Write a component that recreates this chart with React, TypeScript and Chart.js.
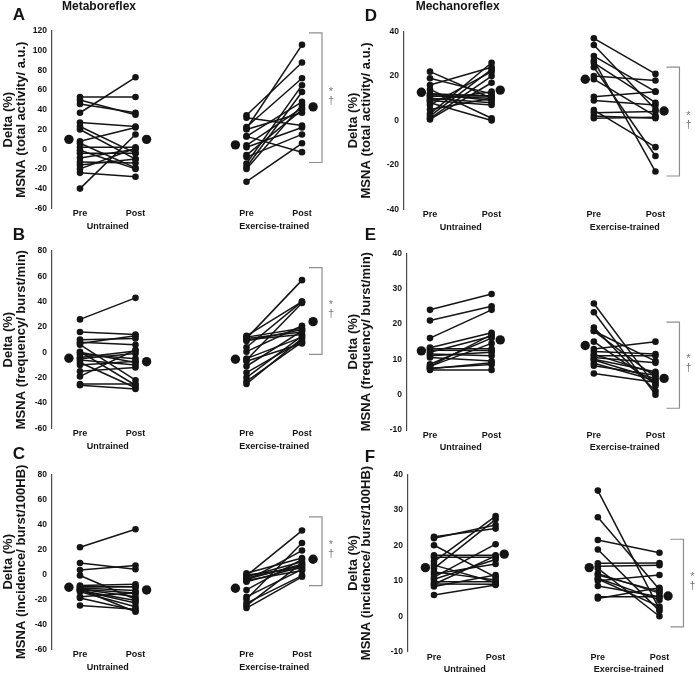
import React, { useEffect, useRef } from "react";
import { Chart, registerables } from "chart.js";
Chart.register(...registerables);

const FONT = "'Liberation Sans', Arial, Helvetica, sans-serif";
const INK = "#141414";

// ---- text ----
const TICK_LABELS = ["Pre", "Post", "Pre", "Post"];
const GROUP_LABELS = ["Untrained", "Exercise-trained"];
const Y_TOP = "Delta (%)";
const Y_TOTAL = "MSNA (total activity/ a.u.)";
const Y_FREQ = "MSNA (frequency/ burst/min)";
const Y_INC = "MSNA (incidence/ burst/100HB)";

// ---- y ticks ----
const A_TICKS = [-60, -40, -20, 0, 20, 40, 60, 80, 100, 120];
const BC_TICKS = [-60, -40, -20, 0, 20, 40, 60, 80];
const D_TICKS = [-40, -20, 0, 20, 40];
const EF_TICKS = [-10, 0, 10, 20, 30, 40];

// ---- Panel A: Metaboreflex, total activity ----
const A_UNT_PRE = [53, 50, 46, 37, 27, 23, 20, 8, 6, 2, -1, -4, -9, -13, -16, -20, -24, -40];
const A_UNT_POST = [53, 35, 37, 73, 23, -4, -10, 22, -19, 2, -20, -4, 0, -14, -10, 1, -28, 15];
const A_TRN_PRE = [21, 34.5, 32, 22.6, 13, 4, 2, -6, -8, -14.5, -18, -33, 13, -20, 20];
const A_TRN_POST = [106, 88, 24, 72, 48, 42, 22, 40, 15, 65, 58, 6, -3, 45, 37];
const A_MEANS = [10, 10, 4.4, 43];
const A_BRACKET = [118, -13.5];

// ---- Panel B: Metaboreflex, frequency ----
const B_UNT_PRE = [26, 16, 10, 8, 6, 0.5, -1.6, -4, -6, -8, -10, -15, -19, -26, -25, 0, -5, 7];
const B_UNT_POST = [43, 14, 11, 6, -22, -26, -5, 1, -10, -28, -7, -12, 2, -29, -25, -8, -1, 13];
const B_TRN_PRE = [11, 13, 4, -6, 11, 9, 10, 0.5, -5, -11, -16, -20, -23, -25, 12, -7];
const B_TRN_POST = [57, 40, 40, 39, 16, 18, 14, 21, 12, 17, 9, 13, 8, 11, 19, 7];
const B_MEANS = [-4.7, -7.4, -5.5, 24.2];
const B_BRACKET = [66.8, -1.6];

// ---- Panel C: Metaboreflex, incidence ----
const C_UNT_PRE = [21.6, 9, 3.5, -1, -9, -10, -11, -12, -12, -13, -14, -18, -19, -25, -12, -13, -10];
const C_UNT_POST = [36, 4, 7, -20, -8, -10, -13, -15, -18, -23, -26, -15, -29, -28, -30, -21, -10];
const C_TRN_PRE = [-1, -20, -5, 0.8, -2, -4, -6, -12.5, -18, -23, -25, -27, -0.5, -3, -5];
const C_TRN_POST = [35, 25, 19, 13, 10, 8, 6, 12, 4, -1, 9, -2, 5, 7, 3];
const C_MEANS = [-10.4, -12.5, -11.2, 12];
const C_BRACKET = [46, -9.1];

// ---- Panel D: Mechanoreflex, total activity ----
const D_UNT_PRE = [22, 19, 16, 14, 12, 11, 10, 9, 8, 7, 5, 3, 2, 1, 0.5, 12, 9, 11];
const D_UNT_POST = [10, 12, 24, 1, 9, 11, 8, 13, 0, 22, 10, 26, 23, 20, 17, 11, 7, 10];
const D_TRN_PRE = [37, 34, 29, 27, 26, 24, 18.6, 10.7, 9, 4.7, 3.5, 2, 1, 20];
const D_TRN_POST = [21, 5, 13, -23, 8, -16, 2, 13, 7, -12, 4, 1, 1.5, 18];
const D_MEANS = [12.7, 13.7, 18.6, 4.3];
const D_BRACKET = [24, -25];

// ---- Panel E: Mechanoreflex, frequency ----
const E_UNT_PRE = [24, 21, 16, 13.3, 12.6, 12, 11, 10.5, 8.6, 8, 7.5, 7, 8, 11.5, 13, 7.3];
const E_UNT_POST = [28.5, 25, 24, 17.5, 12.5, 16.5, 12, 9.5, 16, 14.5, 8.5, 7, 17, 11, 13, 9];
const E_TRN_PRE = [25.8, 23.3, 19, 18, 18, 15, 12.9, 12.2, 11.4, 10.5, 9.8, 8.9, 8.2, 6, 11, 10];
const E_TRN_POST = [2.5, 0, 1, 5, 9.5, 3, 15, 11.5, 6, 9, 4.5, 4, 5.5, 3.5, 11, 6.5];
const E_MEANS = [12.4, 15.5, 13.9, 4.6];
const E_BRACKET = [20.5, -3.85];

// ---- Panel F: Mechanoreflex, incidence ----
const F_UNT_PRE = [22.4, 22, 20, 17.2, 16.6, 15.4, 14.4, 13.5, 11.9, 11, 10.4, 9.7, 9.1, 8.4, 6, 9, 12.5];
const F_UNT_POST = [24.7, 25.7, 11, 17.2, 16.6, 28.2, 9.5, 27.3, 14.7, 20.3, 16, 9.7, 9, 11.6, 8.8, 17, 10.2];
const F_TRN_PRE = [35.4, 27.9, 21.5, 18.8, 14.9, 14.1, 13.5, 11.6, 10.7, 10, 8.5, 5.5, 5, 10.5, 12];
const F_TRN_POST = [2, 7.5, 17.9, 1.5, 15, 14.4, 0, 7, 4.6, 11.6, 5.5, 5.5, 8, 2.7, 6.5];
const F_MEANS = [13.7, 17.5, 13.7, 5.7];
const F_BRACKET = [21.7, -3];

// ---- layout ----
const LEFT_COL = { slots: [1, 2, 4, 5], unit: 55.5, meanOff: 0.2, tickL: 7, vert: 20, star: 29 };
const RIGHT_COL = { slots: [1, 2, 3.66, 4.66], unit: 61.6, meanOff: 0.14, tickL: 11, vert: 24, star: 33 };
const X_H = 12.5;
const X2_H = 14;

type Panel = {
  letter: string;
  heading?: string;
  yTitle: string[];
  ticks: number[];
  untPre: number[];
  untPost: number[];
  trnPre: number[];
  trnPost: number[];
  means: number[];
  bracket: number[];
  box: { left: number; top: number; width: number; height: number };
  area: { left: number; top: number; bottom: number; right: number };
  col: typeof LEFT_COL;
  anchor: number;
  letterAt: number[];
  headingAt?: number[];
};

const PANELS: Panel[] = [
  {
    letter: "A", heading: "Metaboreflex", yTitle: [Y_TOP, Y_TOTAL], ticks: A_TICKS,
    untPre: A_UNT_PRE, untPost: A_UNT_POST, trnPre: A_TRN_PRE, trnPost: A_TRN_POST, means: A_MEANS, bracket: A_BRACKET,
    box: { left: 0, top: 0, width: 345, height: 240 }, area: { left: 52, top: 31, bottom: 208.3, right: 340 },
    col: LEFT_COL, anchor: 80, letterAt: [19, 15], headingAt: [99, 7],
  },
  {
    letter: "B", yTitle: [Y_TOP, Y_FREQ], ticks: BC_TICKS,
    untPre: B_UNT_PRE, untPost: B_UNT_POST, trnPre: B_TRN_PRE, trnPost: B_TRN_POST, means: B_MEANS, bracket: B_BRACKET,
    box: { left: 0, top: 226, width: 345, height: 234 }, area: { left: 52, top: 251, bottom: 428.3, right: 340 },
    col: LEFT_COL, anchor: 80, letterAt: [19, 235.5],
  },
  {
    letter: "C", yTitle: [Y_TOP, Y_INC], ticks: BC_TICKS,
    untPre: C_UNT_PRE, untPost: C_UNT_POST, trnPre: C_TRN_PRE, trnPost: C_TRN_POST, means: C_MEANS, bracket: C_BRACKET,
    box: { left: 0, top: 444, width: 345, height: 232 }, area: { left: 52, top: 474.3, bottom: 649.3, right: 340 },
    col: LEFT_COL, anchor: 80, letterAt: [19, 454.5],
  },
  {
    letter: "D", heading: "Mechanoreflex", yTitle: [Y_TOP, Y_TOTAL], ticks: D_TICKS,
    untPre: D_UNT_PRE, untPost: D_UNT_POST, trnPre: D_TRN_PRE, trnPost: D_TRN_POST, means: D_MEANS, bracket: D_BRACKET,
    box: { left: 345, top: 0, width: 350, height: 240 }, area: { left: 404, top: 31.7, bottom: 209.3, right: 690 },
    col: RIGHT_COL, anchor: 430, letterAt: [371, 16], headingAt: [457.7, 7],
  },
  {
    letter: "E", yTitle: [Y_TOP, Y_FREQ], ticks: EF_TICKS,
    untPre: E_UNT_PRE, untPost: E_UNT_POST, trnPre: E_TRN_PRE, trnPost: E_TRN_POST, means: E_MEANS, bracket: E_BRACKET,
    box: { left: 345, top: 226, width: 350, height: 234 }, area: { left: 407, top: 253.3, bottom: 430, right: 690 },
    col: RIGHT_COL, anchor: 430, letterAt: [370.5, 235.5],
  },
  {
    letter: "F", yTitle: [Y_TOP, Y_INC], ticks: EF_TICKS,
    untPre: F_UNT_PRE, untPost: F_UNT_POST, trnPre: F_TRN_PRE, trnPost: F_TRN_POST, means: F_MEANS, bracket: F_BRACKET,
    box: { left: 345, top: 444, width: 350, height: 232 }, area: { left: 408, top: 474.3, bottom: 651.7, right: 690 },
    col: RIGHT_COL, anchor: 434, letterAt: [370, 457],
  },
];

function PanelChart({ p }: { p: Panel }) {
  const ref = useRef<HTMLCanvasElement>(null);
  useEffect(() => {
    const canvas = ref.current;
    if (!canvas) return;
    const col = p.col;
    const [s0, s1, s2, s3] = col.slots;
    const xmin = s0 - (p.anchor - p.area.left) / col.unit;
    const xmax = s0 + (p.area.right - p.anchor) / col.unit;
    const groupMid = [(s0 + s1) / 2, (s2 + s3) / 2];

    const pair = (a: number, b: number, xa: number, xb: number) => ({
      data: [{ x: xa, y: a }, { x: xb, y: b }],
      showLine: true,
      borderColor: INK,
      borderWidth: 1.5,
      pointRadius: 3.3,
      pointHoverRadius: 3.3,
      pointBackgroundColor: INK,
      pointBorderWidth: 0,
    });
    const datasets: any[] = [];
    p.untPre.forEach((v, i) => datasets.push(pair(v, p.untPost[i], s0, s1)));
    p.trnPre.forEach((v, i) => datasets.push(pair(v, p.trnPost[i], s2, s3)));
    const mo = col.meanOff;
    datasets.push({
      data: [
        { x: s0 - mo, y: p.means[0] },
        { x: s1 + mo, y: p.means[1] },
        { x: s2 - mo, y: p.means[2] },
        { x: s3 + mo, y: p.means[3] },
      ],
      showLine: false,
      pointRadius: 4.7,
      pointHoverRadius: 4.7,
      pointBackgroundColor: INK,
      pointBorderWidth: 0,
    });

    const decor = {
      id: "decor",
      afterDraw(chart: any) {
        const ctx = chart.ctx as CanvasRenderingContext2D;
        const xs = chart.scales.x;
        const ys = chart.scales.y;
        ctx.save();
        ctx.fillStyle = INK;
        ctx.textAlign = "center";
        ctx.textBaseline = "middle";
        ctx.font = `bold 17px ${FONT}`;
        ctx.fillText(p.letter, p.letterAt[0] - p.box.left, p.letterAt[1] - p.box.top);
        if (p.heading && p.headingAt) {
          ctx.font = `bold 12px ${FONT}`;
          ctx.fillText(p.heading, p.headingAt[0] - p.box.left, p.headingAt[1] - p.box.top);
        }
        const px = xs.getPixelForValue(s3);
        const yT = ys.getPixelForValue(p.bracket[0]);
        const yB = ys.getPixelForValue(p.bracket[1]);
        ctx.strokeStyle = "#8e8e8e";
        ctx.lineWidth = 1.2;
        ctx.beginPath();
        ctx.moveTo(px + col.tickL, yT);
        ctx.lineTo(px + col.vert, yT);
        ctx.lineTo(px + col.vert, yB);
        ctx.lineTo(px + col.tickL, yB);
        ctx.stroke();
        const mid = (yT + yB) / 2;
        ctx.fillStyle = "#7a7a7a";
        ctx.font = `11px ${FONT}`;
        ctx.fillText("*", px + col.star, mid - 6);
        ctx.fillText("\u2020", px + col.star, mid + 3);
        ctx.restore();
      },
    };

    const tickFont = { family: FONT, size: 9, weight: "bold" as const, lineHeight: 1 };
    const chart = new Chart(canvas, {
      type: "scatter",
      data: { datasets },
      options: {
        responsive: false,
        animation: false,
        devicePixelRatio: 1,
        events: [],
        layout: {
          padding: {
            top: p.area.top - p.box.top,
            left: 0,
            right: p.box.left + p.box.width - p.area.right,
            bottom: p.box.top + p.box.height - p.area.bottom - X_H - X2_H,
          },
        },
        plugins: { legend: { display: false }, tooltip: { enabled: false }, title: { display: false } },
        scales: {
          x: {
            type: "linear",
            position: "bottom",
            weight: 0,
            min: xmin,
            max: xmax,
            grid: { display: false, drawTicks: false },
            border: { display: false },
            afterBuildTicks: (ax: any) => {
              ax.ticks = col.slots.map((v) => ({ value: v }));
            },
            afterFit: (s: any) => {
              s.height = X_H;
            },
            ticks: {
              autoSkip: false,
              maxRotation: 0,
              padding: 1,
              color: INK,
              font: tickFont,
              callback: (_v: any, i: number) => TICK_LABELS[i],
            },
          },
          x2: {
            type: "linear",
            axis: "x",
            position: "bottom",
            weight: 1,
            min: xmin,
            max: xmax,
            grid: { display: false, drawTicks: false },
            border: { display: false },
            afterBuildTicks: (ax: any) => {
              ax.ticks = groupMid.map((v) => ({ value: v }));
            },
            afterFit: (s: any) => {
              s.height = X2_H;
            },
            ticks: {
              autoSkip: false,
              maxRotation: 0,
              padding: 1,
              color: INK,
              font: tickFont,
              callback: (_v: any, i: number) => GROUP_LABELS[i],
            },
          },
          y: {
            type: "linear",
            min: p.ticks[0],
            max: p.ticks[p.ticks.length - 1],
            grid: { display: false, drawTicks: false },
            border: { display: true, color: "#4a4a4a", width: 1.2 },
            afterBuildTicks: (ax: any) => {
              ax.ticks = p.ticks.map((v) => ({ value: v }));
            },
            afterFit: (s: any) => {
              s.width = p.area.left - p.box.left;
            },
            ticks: {
              padding: 5,
              color: INK,
              font: { family: FONT, size: 8.5, weight: "bold" },
            },
            title: {
              display: true,
              text: p.yTitle,
              color: INK,
              font: { family: FONT, size: 13, weight: "bold", lineHeight: 1 },
              padding: { top: 2, bottom: 0 },
            },
          },
        },
      } as any,
      plugins: [decor],
    });
    return () => chart.destroy();
  }, [p]);

  return (
    <canvas
      ref={ref}
      width={p.box.width}
      height={p.box.height}
      style={{
        position: "absolute",
        left: p.box.left,
        top: p.box.top,
        width: p.box.width,
        height: p.box.height,
      }}
    />
  );
}

export default function App() {
  return (
    <div style={{ position: "absolute", left: 0, top: 0, width: 695, height: 676, background: "#fff", overflow: "hidden" }}>
      {PANELS.map((p) => (
        <PanelChart key={p.letter} p={p} />
      ))}
    </div>
  );
}
